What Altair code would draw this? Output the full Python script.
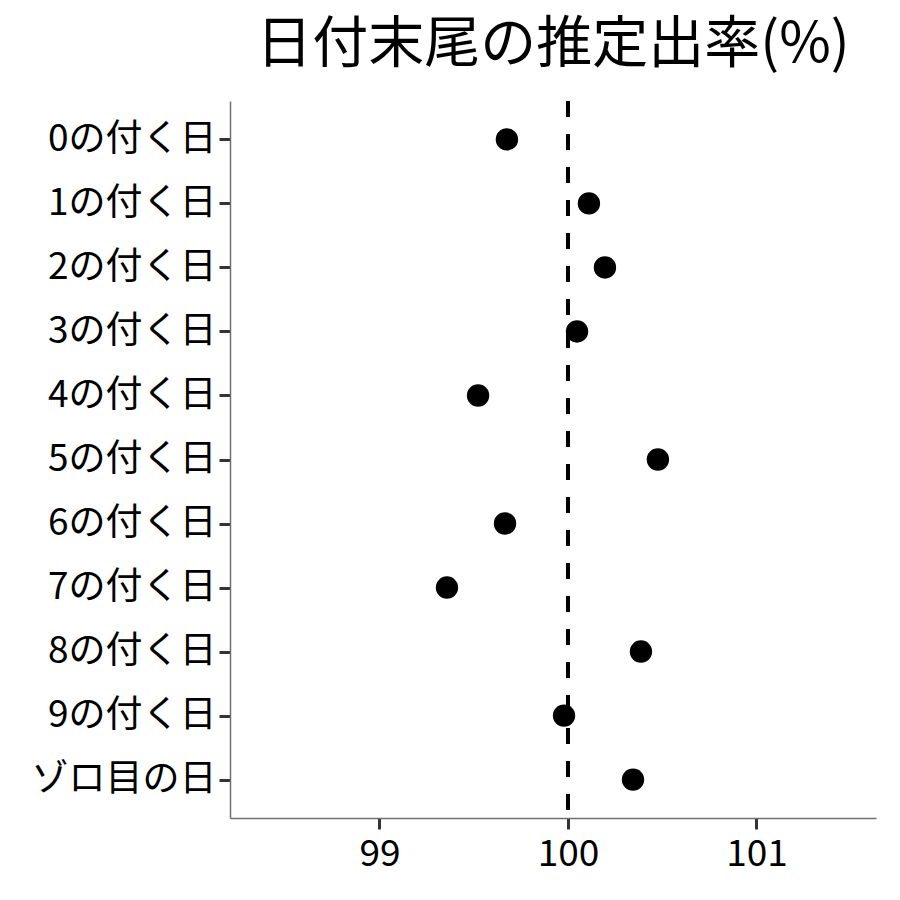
import altair as alt
import pandas as pd

categories = ["0の付く日", "1の付く日", "2の付く日", "3の付く日", "4の付く日",
              "5の付く日", "6の付く日", "7の付く日", "8の付く日", "9の付く日", "ゾロ目の日"]
rates = [99.676, 100.111, 100.196, 100.048, 99.523, 100.477, 99.666, 99.358, 100.387, 99.979, 100.345]
x_ticks = [99, 100, 101]
x_domain = [98.207, 101.634]
ref_value = [100]

df = pd.DataFrame({"cat": categories, "rate": rates})
ref = pd.DataFrame({"v": ref_value})

FONT = "Noto Sans CJK JP"

x_scale = alt.Scale(domain=x_domain, nice=False, zero=False)

points = alt.Chart(df).mark_circle(size=500, color="black", opacity=1).encode(
    x=alt.X("rate:Q", scale=x_scale,
            axis=alt.Axis(values=x_ticks, title=None, grid=False, format="d",
                          labelFontSize=37, labelFont=FONT, labelColor="black",
                          tickSize=11, tickWidth=3, tickColor="#333333",
                          domainColor="#707070", domainWidth=1.5, labelPadding=7)),
    y=alt.Y("cat:N", sort=categories, scale=alt.Scale(type="point", padding=0.6),
            axis=alt.Axis(title=None, grid=False, labelLimit=0,
                          labelFontSize=37, labelFont=FONT, labelColor="black",
                          tickSize=11, tickWidth=3, tickColor="#333333",
                          domainColor="#707070", domainWidth=1.5, labelPadding=3)),
)

rule = alt.Chart(ref).mark_rule(color="black", strokeWidth=4, strokeDash=[16, 17]).encode(
    x=alt.X("v:Q", scale=x_scale)
)

chart = alt.layer(rule, points).properties(
    width=646,
    height=717,
    background="white",
    title=alt.TitleParams("日付末尾の推定出率(%)", font=FONT, fontSize=56,
                          fontWeight="normal", color="black", anchor="middle", offset=25),
    autosize=alt.AutoSizeParams(type="none"),
    padding={"left": 222, "top": 93, "right": 16, "bottom": 74},
).configure_view(strokeWidth=0, stroke="transparent")

chart.save("out.html", embed_options={"renderer": "svg", "actions": False})
